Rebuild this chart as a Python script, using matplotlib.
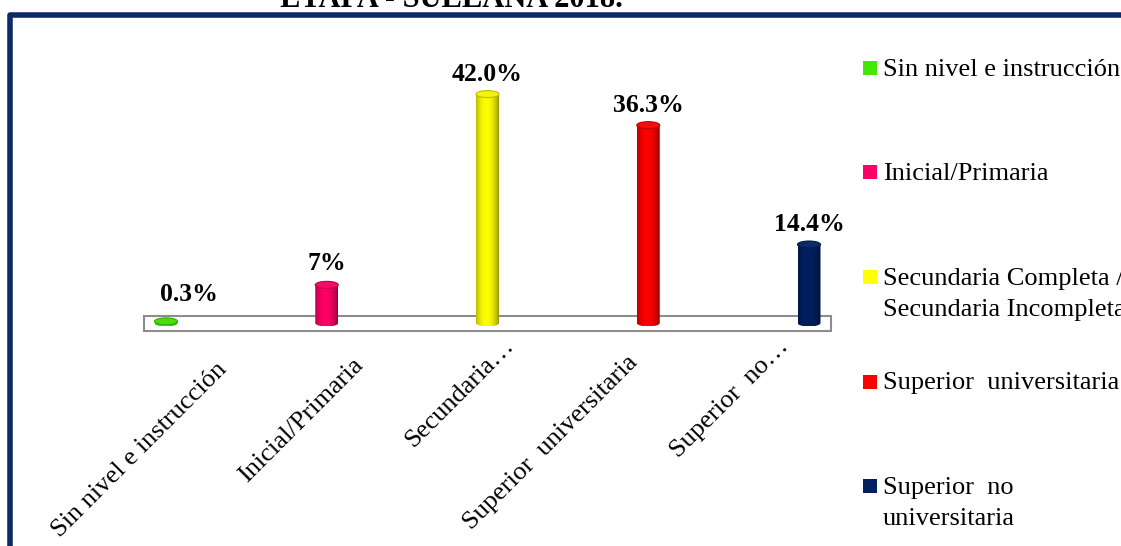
import numpy as np
import matplotlib
matplotlib.use('Agg')
import matplotlib.pyplot as plt
from matplotlib.patches import Rectangle, Ellipse, Polygon
from matplotlib.lines import Line2D
from matplotlib.colors import to_rgb

# Nivel educativo - porcentajes
categories = ['Sin nivel e instrucción', 'Inicial/Primaria', 'Secundaria…',
              'Superior  universitaria', 'Superior  no…']
legend_labels = ['Sin nivel e instrucción', 'Inicial/Primaria',
                 'Secundaria Completa /\nSecundaria Incompleta',
                 'Superior  universitaria', 'Superior  no\nuniversitaria']
values = [0.3, 7.0, 42.0, 36.3, 14.4]
value_text = ['0.3%', '7%', '42.0%', '36.3%', '14.4%']
colors = ['#45e600', '#ff0066', '#ffff00', '#ff0000', '#002060']
title = 'ETAPA - SULLANA 2018.'

serif = 'Liberation Serif'
navy = '#0e2a66'

W, H = 1121, 546
fig = plt.figure(figsize=(W / 100, H / 100), dpi=100)
fig.patch.set_facecolor('white')
ax = fig.add_axes([0, 0, 1, 1])
ax.axis('off')

# pixel scale of the plot area
x0px, step_px = 166, 160.75
y0px, k_px = 323, 5.45
bar_w = 23 / step_px
ell_h = 7 / k_px

# floor plate
ax.add_patch(Rectangle((-22 / step_px, -8 / k_px), (831 - 144) / step_px, 15 / k_px,
                       facecolor='white', edgecolor='#8c8c8c', lw=1.5, zorder=1))

# cylinders
u = np.linspace(-1, 1, 64)
shade = 1 - 0.4 * ((u + 0.1) / 1.1) ** 2
for i, (v, c) in enumerate(zip(values, colors)):
    rgb = np.array(to_rgb(c))
    grad = np.clip(rgb[None, :] * shade[:, None], 0, 1)[None, :, :]
    a = bar_w / 2
    t = np.linspace(np.pi, 2 * np.pi, 40)
    pts = np.column_stack([i + a * np.cos(t), (ell_h / 2) * np.sin(t)])
    pts = np.vstack([pts, [i + a, v], [i - a, v]])
    clip = Polygon(pts, closed=True, transform=ax.transData)
    im = ax.imshow(grad, extent=[i - a, i + a, -ell_h / 2, v], aspect='auto',
                   interpolation='bilinear', zorder=3)
    im.set_clip_path(clip)
    top_face = np.clip(rgb * 0.9 + 0.05, 0, 1)
    ax.add_patch(Ellipse((i, v), bar_w, ell_h, facecolor=top_face,
                         edgecolor=np.clip(rgb * 0.75, 0, 1), lw=0.8, zorder=4))

# value labels
val_offsets = [(23, 20), (0, 15), (0, 13.5), (0, 13.5), (0, 13.5)]
for i, (v, s) in enumerate(zip(values, value_text)):
    ax.annotate(s, xy=(i, v), xytext=val_offsets[i], textcoords='offset pixels',
                ha='center', va='baseline', fontsize=18.5, fontweight='bold',
                family=serif, zorder=5)

# rotated category labels
cat_offsets = [(62, -47), (37, -43), (27, -24), (-10, -40), (-20, -24)]
for i, s in enumerate(categories):
    ax.annotate(s, xy=(i, 0), xytext=cat_offsets[i], textcoords='offset pixels',
                rotation=45, rotation_mode='anchor', ha='right', va='baseline',
                fontsize=19, family=serif)

# legend: square beside the first line of each entry
for j, (s, c) in enumerate(zip(legend_labels, colors)):
    yc = 68 + 104.5 * j
    fig.patches.append(Rectangle((863 / W, 1 - (yc + 7) / H), 14 / W, 14 / H,
                                 transform=fig.transFigure, facecolor=c,
                                 edgecolor='none'))
    for k, line in enumerate(s.split('\n')):
        fig.text(883 / W, 1 - (yc + 8 + 31 * k) / H, line, ha='left',
                 va='baseline', fontsize=19, family=serif)

# frame and title
fig.add_artist(Line2D([10 / W, 10 / W, 1.05], [-0.05, 1 - 14.5 / H, 1 - 14.5 / H],
                      transform=fig.transFigure, lw=4, color=navy,
                      solid_joinstyle='round'))
fig.text(451 / W, 1 - 7 / H, title, ha='center', va='baseline', fontsize=22,
         fontweight='bold', family=serif)

ax.set_xlim(-x0px / step_px, (W - x0px) / step_px)
ax.set_ylim(-(H - y0px) / k_px, y0px / k_px)

fig.savefig('out.png', dpi=100)
